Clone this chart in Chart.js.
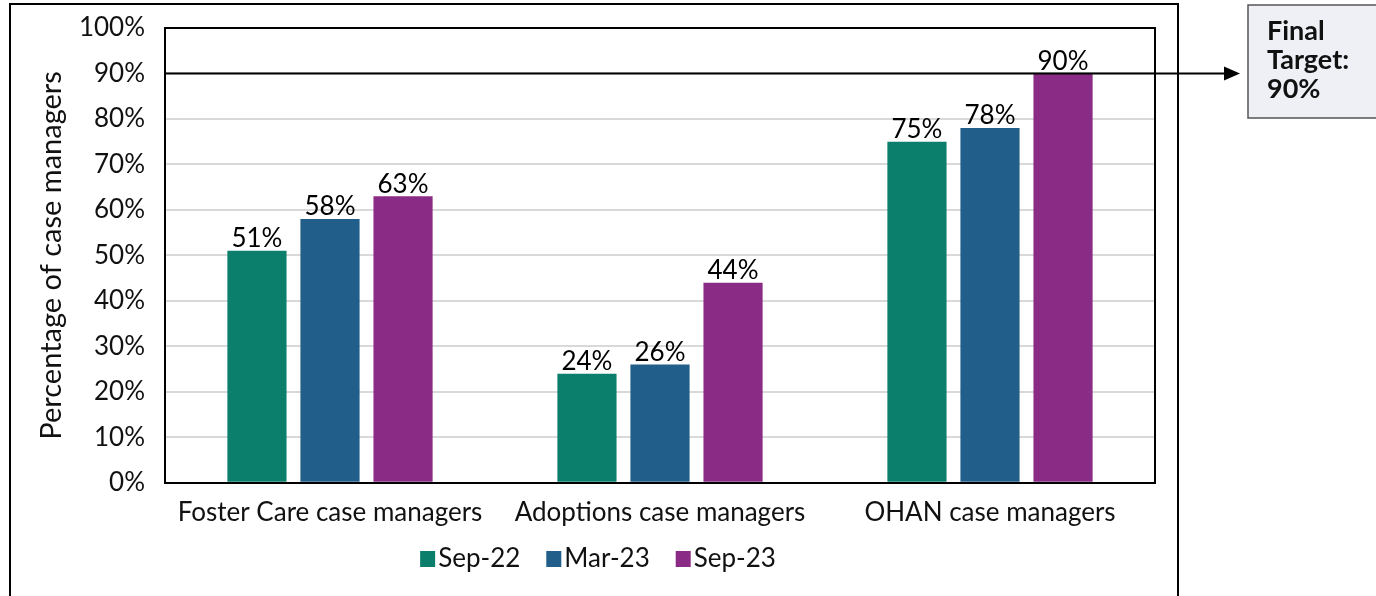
<!DOCTYPE html>
<html>
<head>
<meta charset="utf-8">
<script src="https://cdn.jsdelivr.net/npm/chart.js@4.4.1/dist/chart.umd.min.js"></script>
<style>
  html, body { margin: 0; padding: 0; background: #fff; }
  #wrap { width: 1376px; height: 596px; position: relative; }
</style>
</head>
<body>
<div id="wrap"><canvas id="chart"></canvas></div>
<script>
// Chart data
const categories = ['Foster Care case managers', 'Adoptions case managers', 'OHAN case managers'];
const seriesNames = ['Sep-22', 'Mar-23', 'Sep-23'];
const sep22 = [51, 24, 75];
const mar23 = [58, 26, 78];
const sep23 = [63, 44, 90];
const seriesColors = ['#0b7f6b', '#215e8a', '#8a2c86'];
const targetValue = 90;
const targetLines = ['Final', 'Target:', '90%'];

const FONT = 'Lato, "Open Sans", sans-serif';

// outer frame + top/right plot border
const framePlugin = {
    id: 'frame',
    beforeDraw(chart) {
        const c = chart.ctx;
        c.save();
        c.strokeStyle = '#000';
        c.lineWidth = 2;
        c.strokeRect(10, 4, 1168, 600);
        c.restore();
    },
    afterDatasetsDraw(chart) {
        const c = chart.ctx;
        const a = chart.chartArea;
        c.save();
        c.strokeStyle = '#000';
        c.lineWidth = 2;
        c.beginPath();
        c.moveTo(a.left, a.top);
        c.lineTo(a.right, a.top);
        c.lineTo(a.right, a.bottom);
        c.stroke();
        c.restore();
    }
};

// value labels above bars
const labelPlugin = {
    id: 'barLabels',
    afterDatasetsDraw(chart) {
        const c = chart.ctx;
        c.save();
        c.font = '26px ' + FONT;
        c.fillStyle = '#000';
        c.textAlign = 'center';
        c.textBaseline = 'bottom';
        chart.data.datasets.forEach((ds, i) => {
            chart.getDatasetMeta(i).data.forEach((bar, j) => {
                c.fillText(ds.data[j] + '%', bar.x, bar.y + 1);
            });
        });
        c.restore();
    }
};

// legend drawn by hand so the box/text spacing matches
const legendPlugin = {
    id: 'customLegend',
    afterDraw(chart) {
        const c = chart.ctx;
        c.save();
        c.font = '26px ' + FONT;
        c.textBaseline = 'middle';
        c.textAlign = 'left';
        const box = 15, gap = 3, itemGap = 26;
        const widths = seriesNames.map(n => box + gap + c.measureText(n).width);
        const total = widths.reduce((a, b) => a + b, 0) + itemGap * (widths.length - 1);
        let x = 598 - total / 2;
        const y = 559;
        chart.data.datasets.forEach((ds, i) => {
            c.fillStyle = ds.backgroundColor;
            c.fillRect(x, y - 8, box, 16);
            c.fillStyle = '#111';
            c.fillText(ds.label, x + box + gap, y);
            x += widths[i] + itemGap;
        });
        c.restore();
    }
};

// target line with arrow and callout box
const targetPlugin = {
    id: 'target',
    afterDatasetsDraw(chart) {
        const c = chart.ctx;
        const a = chart.chartArea;
        const y = chart.scales.y.getPixelForValue(targetValue);
        c.save();
        c.strokeStyle = '#000';
        c.fillStyle = '#000';
        c.lineWidth = 2;
        c.beginPath();
        c.moveTo(a.left, y);
        c.lineTo(1226, y);
        c.stroke();
        c.beginPath();
        c.moveTo(1240, y);
        c.lineTo(1224, y - 7);
        c.lineTo(1224, y + 7);
        c.closePath();
        c.fill();

        c.fillStyle = '#eef0f5';
        c.fillRect(1248, 5, 140, 113);
        c.strokeStyle = '#555';
        c.lineWidth = 1.5;
        c.strokeRect(1248, 5, 140, 113);

        c.fillStyle = '#111';
        c.font = 'bold 27px ' + FONT;
        c.textAlign = 'left';
        c.textBaseline = 'middle';
        targetLines.forEach((t, i) => c.fillText(t, 1267, 31 + i * 29));
        c.restore();
    }
};

const datasets = [sep22, mar23, sep23].map((d, i) => ({
    label: seriesNames[i],
    data: d,
    backgroundColor: seriesColors[i],
    borderWidth: 0,
    categoryPercentage: 0.664,
    barPercentage: 0.81
}));

new Chart(document.getElementById('chart'), {
    type: 'bar',
    data: { labels: categories, datasets: datasets },
    options: {
        responsive: true,
        maintainAspectRatio: false,
        animation: false,
        layout: {
            padding: { left: 0, right: 221, top: 28, bottom: 62 }
        },
        plugins: {
            legend: { display: false },
            tooltip: { enabled: false }
        },
        scales: {
            x: {
                grid: { display: false },
                border: { color: '#000', width: 2 },
                ticks: {
                    font: { family: FONT, size: 26 },
                    color: '#111',
                    padding: 6
                }
            },
            y: {
                min: 0,
                max: 100,
                afterFit(scale) {
                    scale.width = 165;
                    scale.paddingTop = 0;
                    scale.paddingBottom = 0;
                },
                grid: { color: '#d9d9d9', lineWidth: 2, drawTicks: false },
                border: { color: '#000', width: 2 },
                ticks: {
                    stepSize: 10,
                    font: { family: FONT, size: 26 },
                    color: '#111',
                    padding: 20,
                    callback: v => v + '%'
                },
                title: {
                    display: true,
                    text: 'Percentage of case managers',
                    font: { family: FONT, size: 29 },
                    color: '#111',
                    padding: { top: 34, bottom: 0 }
                }
            }
        }
    },
    plugins: [framePlugin, labelPlugin, targetPlugin, legendPlugin]
});
</script>
</body>
</html>
